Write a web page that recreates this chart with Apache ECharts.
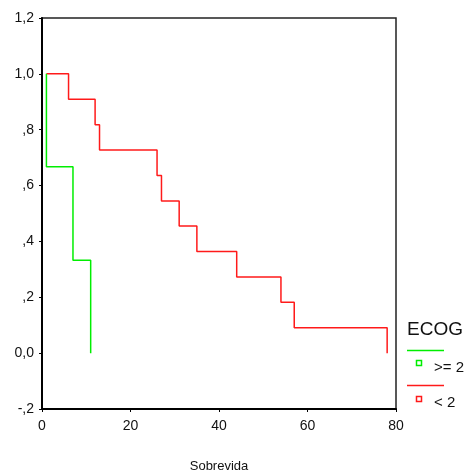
<!DOCTYPE html>
<html>
<head>
<meta charset="utf-8">
<script src="https://cdn.jsdelivr.net/npm/echarts@6/dist/echarts.min.js"></script>
<style>
  html, body { margin: 0; padding: 0; background: #fff; }
  #chart { width: 470px; height: 473px; }
</style>
</head>
<body>
<div id="chart"></div>
<script>
// Kaplan-Meier, ECOG groups (step points: time, cumulative survival)
const groupNames = ['>= 2', '< 2'];
const ge2Times = [1, 1, 7, 11];
const ge2Surv = [1.0, 0.667, 0.333, 0.0];
const lt2Times = [1, 6, 12, 13, 26, 27, 31, 35, 44, 54, 57, 78];
const lt2Surv = [1.0, 0.909, 0.818, 0.727, 0.636, 0.545, 0.455, 0.364, 0.273, 0.182, 0.091, 0.0];
const xTicks = [0, 20, 40, 60, 80];
const yTicks = [-0.2, 0, 0.2, 0.4, 0.6, 0.8, 1.0, 1.2];

const GREEN = '#00ee00';
const RED = '#ff1a1a';
const FONT = 'Liberation Sans';

function pairs(xs, ys) {
    return xs.map((x, i) => [x, ys[i]]);
}

// SPSS style labels: 1,0  ,8  0,0  -,2
function spssLabel(v) {
    if (Math.abs(v) < 1e-9) return '0,0';
    let s = v.toFixed(1).replace('.', ',');
    if (Math.abs(v) < 1) s = s.replace('0,', ',');
    return s;
}

let chart = echarts.init(document.getElementById('chart'), null, { renderer: 'canvas' });

let option = {
    animation: false,
    backgroundColor: '#fff',
    grid: {
        left: 42,
        right: 74,
        top: 18,
        bottom: 64,
        outerBoundsMode: 'none',
        containLabel: false,
        show: true,
        borderColor: '#222',
        borderWidth: 1.5,
        backgroundColor: 'transparent'
    },
    xAxis: {
        type: 'value',
        min: xTicks[0],
        max: xTicks[xTicks.length - 1],
        interval: 20,
        name: 'Sobrevida',
        nameLocation: 'middle',
        nameGap: 51,
        nameTextStyle: { fontFamily: FONT, fontSize: 13, color: '#111' },
        axisLine: { onZero: false, lineStyle: { color: '#000', width: 2 } },
        axisTick: { show: true, length: 3, lineStyle: { color: '#000' } },
        axisLabel: { fontFamily: FONT, fontSize: 14, color: '#111', margin: 10 },
        splitLine: { show: false }
    },
    yAxis: {
        type: 'value',
        min: yTicks[0],
        max: yTicks[yTicks.length - 1],
        interval: 0.2,
        axisLine: { show: true, onZero: false, lineStyle: { color: '#000', width: 2 } },
        axisTick: { show: true, length: 3, lineStyle: { color: '#000' } },
        axisLabel: {
            fontFamily: FONT, fontSize: 14, color: '#111', margin: 8,
            padding: [4, 0, 0, 0],
            formatter: spssLabel
        },
        splitLine: { show: false }
    },
    series: [
        {
            name: groupNames[0],
            type: 'line',
            step: 'end',
            showSymbol: false,
            data: pairs(ge2Times, ge2Surv),
            lineStyle: { color: GREEN, width: 1.5 },
            z: 3
        },
        {
            name: groupNames[1],
            type: 'line',
            step: 'end',
            showSymbol: false,
            data: pairs(lt2Times, lt2Surv),
            lineStyle: { color: RED, width: 1.5 },
            z: 2
        }
    ],
    // legend drawn SPSS-like: title, line sample, then square marker + label
    graphic: [
        { type: 'text', left: 407, top: 320, style: { text: 'ECOG', fontFamily: FONT, fontSize: 19, fill: '#111' } },
        { type: 'line', shape: { x1: 407, y1: 350.5, x2: 444, y2: 350.5 }, style: { stroke: GREEN, lineWidth: 1.5 } },
        { type: 'rect', shape: { x: 416.5, y: 360.5, width: 5, height: 5 }, style: { fill: '#fff', stroke: GREEN, lineWidth: 1.5 } },
        { type: 'text', left: 434, top: 360, style: { text: groupNames[0], fontFamily: FONT, fontSize: 15, fill: '#111' } },
        { type: 'line', shape: { x1: 407, y1: 385.5, x2: 444, y2: 385.5 }, style: { stroke: RED, lineWidth: 1.5 } },
        { type: 'rect', shape: { x: 416.5, y: 396.5, width: 5, height: 5 }, style: { fill: '#fff', stroke: RED, lineWidth: 1.5 } },
        { type: 'text', left: 434, top: 395, style: { text: groupNames[1], fontFamily: FONT, fontSize: 15, fill: '#111' } }
    ]
};

chart.setOption(option);
</script>
</body>
</html>
